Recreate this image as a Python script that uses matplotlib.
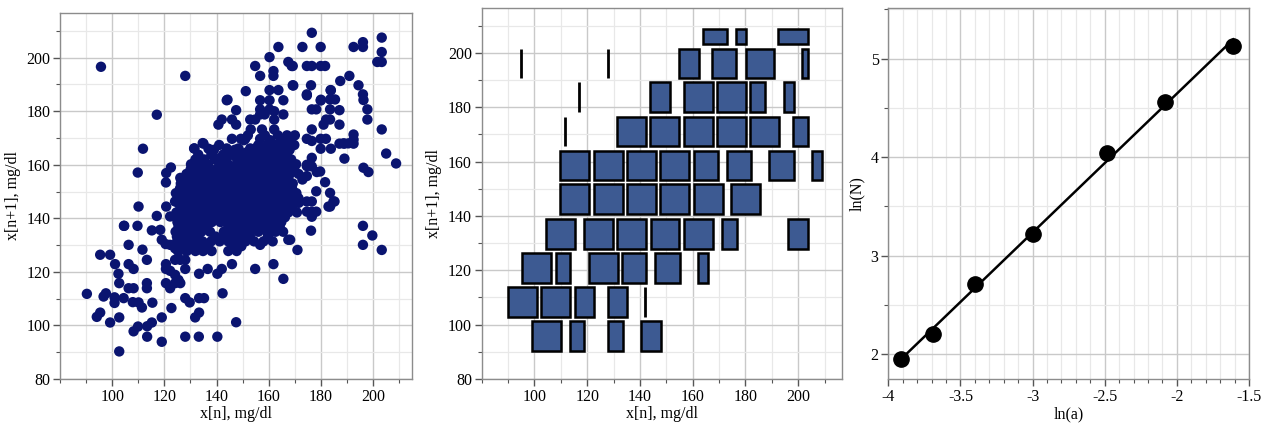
import numpy as np
import matplotlib
matplotlib.use("Agg")
import matplotlib.pyplot as plt
from matplotlib.patches import Rectangle
from matplotlib.ticker import MultipleLocator, FixedLocator, FuncFormatter

plt.rcParams['font.family'] = ['Liberation Serif', 'DejaVu Serif']

# ---------------- Panel 1 data: lag scatter (x[n], x[n+1]) ----------------
# sparse / edge points
sparse_xn = [95.7, 128, 117.1, 111.8, 109.8, 134.7, 131.4, 122.5, 120.7, 120.6, 110.1, 120.7, 117.1,
             90.3, 95.4, 99.2, 101.1, 102.4, 102.7, 104.5, 109.7, 106.3, 106.3, 108.2, 111.6, 113.3,
             113.3, 113.3, 106.3, 108.2, 104.4, 96.7, 97.6, 100.9, 100.9, 107.9, 110.1, 111.4, 115.4,
             94.1, 95.4, 99.2, 102.7, 108.2, 109.9, 113.4, 113.4, 115.2, 119, 119, 102.7, 122.7, 128,
             133.2, 140.3, 147.5, 128, 129.7, 131.8, 133.3, 133.3, 135.2, 142.3, 120.6, 122.2, 120.6,
             120.6, 122.2, 124.1, 125.4, 126.1, 124.1, 119, 120.5, 122.2, 124.1, 115.2, 118.4, 122.2,
             124.4, 125.4, 124.1, 126.1, 128, 128, 133.3, 135, 136.6, 131.8, 129.9, 124.8, 126.7, 128.6,
             126.1, 128, 124.1, 104.6, 140.3, 142, 145.9, 154.8, 161.8, 165.6, 167.5, 156.7,
             196.1, 199.7, 196.1, 203.3, 176.2, 171, 168.2, 183.5, 185.2, 174.6, 176.5, 174.6, 176.5,
             178.2, 176.5, 169.5, 171.4,
             176.5, 172.9, 179.9, 192.5, 196.1, 196.1, 203.3, 203.3, 201.6, 203.3, 174.6, 176.5, 179.9,
             181.6, 169.2, 187.4, 190.9, 194.4, 196.1, 196.3, 197.8, 197.8, 203.3, 205, 208.8, 196.3,
             198.2, 183.7, 183.5, 185.4, 179.9, 176.2, 169.2, 174.6, 187.1, 187.1, 183.5, 183.5, 182,
             181, 176.5, 178.2, 176.5, 174.6, 176.5, 179.9, 181.9, 179.9, 183.8, 187.1, 189, 192.5,
             192.5, 192.5, 189, 176.5, 174.6, 178.4, 181.6, 178.2, 183.5, 172.9, 174.6,
             163.7, 160.3, 154.8, 156.7, 161.8, 161.8, 167.5, 168.8, 151.2, 160.3, 163.7, 143.9, 156.7,
             160.3, 156.7, 160.3, 165.6, 147.5, 142, 140.7, 145.9, 147.5, 152.9, 154.8, 156.7, 158.4,
             162.1, 162.1, 165.6, 162.1, 153.1, 157.4, 156.7, 145.9, 149.3, 151, 131.5, 135, 136.9,
             143.9, 148.4, 140.5, 143.9, 151.2, 152.9, 154.8, 129.9, 128, 126.1, 169.4, 174.6, 183.8,
             180, 144.2, 188.6, 190.5, 179.7, 176.5, 174.6, 184.8, 182.9]
sparse_xn1 = [196.6, 193.2, 178.7, 166, 157.1, 168.1, 166.1, 159, 156.9, 153.4, 144.4, 144.4, 140.9,
              111.8, 126.4, 126.4, 122.9, 119.3, 115.8, 137.2, 137.2, 130.1, 122.9, 121.1, 128.3, 124.5,
              115.8, 113.9, 113.9, 113.9, 110.2, 110.8, 112, 110.5, 108.4, 108.7, 108.6, 106.7, 108.5,
              103.2, 104.8, 101.1, 103, 97.8, 99.6, 95.8, 99.7, 101.1, 93.9, 103, 90.3, 106.5, 95.8,
              95.8, 95.8, 101.2, 110.2, 108.6, 103, 104.8, 110.2, 110.2, 112, 115.8, 113.9, 122.9,
              121.1, 120.4, 118.9, 117, 115.8, 115.8, 132, 130.4, 130.1, 128.8, 135.5, 135.7, 140.7,
              140.7, 136.9, 124.5, 124.5, 124.5, 121.1, 119.3, 128.2, 121.1, 131.3, 132, 133.2, 135.7, 137.6,
              128.2, 128.2, 146.3, 137.2, 119.3, 121.1, 122.9, 121.1, 122.9, 117.4, 132, 130.1,
              137.2, 133.6, 130.1, 128.2, 135.4, 128.2, 132, 144.4, 146.3, 146.3, 146.3, 142.5, 142.5,
              142.5, 140.6, 146.9, 147.5,
              209.3, 204, 204, 204, 204, 205.8, 207.5, 202.1, 198.4, 198.4, 196.9, 196.9, 196.9,
              196.9, 196.9, 191.3, 193.2, 189.7, 186.3, 184.2, 180.7, 176.9, 173.2, 164.2, 160.5, 158.9,
              157.3, 187.9, 184.4, 184.4, 184, 189.7, 189.7, 186.3, 180.4, 175, 180.7, 176.9, 176.9,
              175, 180.7, 180.7, 173.2, 169.7, 168.9, 169.7, 169.7, 166, 166, 167.9, 167.9, 171.3,
              169.4, 167.9, 162.3, 162.6, 159.5, 157.3, 153.5, 150.1, 149.5, 154.5, 155.8,
              204, 200.2, 196.9, 193.2, 195, 193.2, 198.4, 196.9, 187.5, 187.9, 187.9, 184.1, 184.1,
              184.1, 180.7, 180.7, 184.1, 180.4, 176.9, 175, 176.9, 175, 176.9, 176.9, 178.8, 178.8,
              180, 176.9, 178.8, 173.2, 173.2, 173.2, 169.7, 169.7, 169.7, 169.7, 166.1, 167.9, 166,
              166.1, 166.1, 162.3, 162.3, 164.5, 166.1, 166.1, 153.3, 152, 155.1, 189.6, 185.9, 187.8,
              184.3, 184.3, 168, 168, 157.5, 159.4, 160, 146.3, 144.4]

# dense core, read row by row (x[n+1] level, x[n] values)
core_levels = [127.8, 129.6, 131.4, 133.2, 135.0, 136.8, 138.6, 140.4, 142.2, 144.0, 145.8, 147.6,
               149.4, 151.2, 153.0, 154.8, 156.6, 158.4, 160.2, 162.0, 163.8, 165.6, 167.4, 169.2, 171.0]
core_rows = [
    [125.2, 128.6, 131.9, 134.8, 138.1, 144.5, 147.7],
    [126.9, 130.2, 133.5, 136.4, 146.0, 149.5],
    [124.9, 128.1, 131.3, 134.6, 137.9, 141.2, 144.5, 147.8, 151.1, 154.4, 158.0, 161.5],
    [126.5, 129.7, 133.0, 139.6, 142.9, 146.2, 149.5, 152.8, 159.7],
    [124.3, 127.6, 130.9, 134.2, 137.5, 142.8, 146.1, 149.4, 152.7, 156.0, 159.3, 162.6, 165.5],
    [126.0, 129.3, 132.6, 135.8, 144.5, 147.8, 151.1, 154.4, 157.7, 161.0, 164.2],
    [125.0, 128.3, 131.6, 134.9, 138.2, 141.5, 144.8, 148.1, 151.4, 154.7, 158.0, 161.3, 164.8],
    [126.6, 129.9, 133.2, 136.5, 139.8, 143.1, 146.4, 149.7, 153.0, 156.3, 159.6, 162.9, 166.2],
    [124.6, 127.9, 131.2, 134.5, 137.8, 141.1, 144.4, 147.7, 151.0, 154.3, 157.6, 160.9, 164.2, 167.5, 170.8],
    [126.2, 129.5, 132.8, 136.1, 139.4, 142.7, 146.0, 149.3, 152.6, 155.9, 159.2, 162.5, 165.8, 169.1],
    [125.3, 128.6, 131.9, 135.2, 138.5, 141.8, 145.1, 148.4, 151.7, 155.0, 158.3, 161.6, 164.9, 168.2, 171.5],
    [127.0, 130.3, 133.6, 136.9, 140.2, 143.5, 146.8, 150.1, 153.4, 156.7, 160.0, 163.3, 166.6, 169.9],
    [124.4, 127.7, 131.0, 134.3, 137.6, 140.9, 144.2, 147.5, 150.8, 154.1, 157.4, 160.7, 164.0, 167.3, 170.6],
    [126.0, 129.3, 132.6, 135.9, 139.2, 142.5, 145.8, 149.1, 152.4, 155.7, 159.0, 162.3, 165.6, 168.9],
    [126.3, 129.6, 132.9, 136.2, 139.5, 142.8, 146.1, 149.4, 152.7, 156.0, 159.3, 162.6, 165.9, 169.2],
    [127.9, 131.2, 134.5, 137.8, 141.1, 144.4, 147.7, 151.0, 154.3, 157.6, 160.9, 164.2, 167.5],
    [128.5, 131.8, 135.1, 138.4, 141.7, 145.0, 148.3, 151.6, 154.9, 158.2, 161.5, 164.8, 168.1, 171.4],
    [130.1, 133.4, 136.7, 140.0, 143.3, 146.6, 149.9, 153.2, 156.5, 159.8, 163.1, 166.4, 169.7],
    [130.2, 133.5, 136.8, 141.1, 144.4, 147.7, 151.0, 154.3, 157.6, 160.9, 164.2, 167.5, 170.5],
    [131.9, 135.2, 139.4, 142.8, 147.9, 151.3, 155.0, 158.3, 161.9, 165.3, 168.6],
    [133.0, 138.0, 142.5, 146.0, 149.5, 153.0, 156.5, 160.0, 163.5, 167.0],
    [139.0, 147.0, 157.5, 161.0, 164.5, 168.0],
    [141.0, 156.0, 159.5, 163.0, 166.5, 169.8],
    [150.5, 160.5, 165.0, 168.5],
    [152.0, 158.5, 163.5, 167.0, 170.0],
]

# ---------------- Panel 2 data: covering boxes ----------------
box_x0 = [163.8, 176.3, 192.5,
          95.0, 127.8, 154.8, 167.3, 180.3, 201.6,
          117.0, 143.9, 156.6, 169.2, 181.9, 194.7,
          111.6, 131.3, 143.9, 156.7, 169.2, 181.9, 198.1,
          109.7, 122.4, 135.1, 147.7, 160.5, 172.9, 189.1, 205.3,
          109.7, 122.4, 135.1, 147.7, 160.4, 174.7,
          104.3, 118.7, 131.4, 144.0, 156.7, 171.1, 196.3,
          95.3, 108.0, 120.6, 133.3, 145.8, 162.0,
          89.9, 102.5, 115.2, 127.7, 142.0,
          98.9, 113.3, 127.8, 140.4]
box_x1 = [173.0, 180.3, 203.8,
          95.0, 127.8, 162.2, 176.6, 191.0, 203.8,
          117.0, 151.3, 167.6, 180.3, 187.5, 198.4,
          111.6, 142.4, 154.9, 167.6, 180.3, 192.9, 203.8,
          120.8, 133.4, 146.1, 158.6, 169.5, 182.2, 198.4, 209.2,
          120.8, 133.4, 146.1, 158.6, 171.4, 185.7,
          115.3, 129.6, 142.3, 154.9, 167.7, 176.7, 203.8,
          106.3, 113.5, 131.6, 142.4, 155.1, 165.8,
          100.9, 113.5, 122.5, 135.2, 142.0,
          110.0, 118.9, 133.4, 147.8]
row_y0 = [203.3, 190.6, 178.3, 165.7, 153.1, 140.8, 128.0, 115.5, 102.9, 90.4]
row_y1 = [208.9, 201.6, 189.1, 176.5, 164.0, 151.7, 138.9, 126.4, 114.0, 101.2]
row_counts = [3, 6, 6, 7, 8, 6, 7, 6, 5, 4]

# ---------------- Panel 3 data: ln(N) vs ln(a) ----------------
ln_a = [-3.912, -3.689, -3.401, -2.996, -2.485, -2.079, -1.609]
ln_N = [1.950, 2.205, 2.710, 3.222, 4.045, 4.555, 5.130]

# ---------------- figure ----------------
W, H = 1276, 426
fig = plt.figure(figsize=(W / 100, H / 100), dpi=100)

def px_axes(left, top, right, bottom):
    return fig.add_axes([left / W, 1 - bottom / H, (right - left) / W, (bottom - top) / H])

FRAME = '#8c8c8c'
MAJ_GRID = '#c9c9c9'
MIN_GRID = '#e8e8e8'
FS = 11.5

def style(ax):
    for s in ax.spines.values():
        s.set_color(FRAME)
        s.set_linewidth(1.0)
    ax.tick_params(which='major', direction='out', length=5, width=1, color='#555555',
                   labelsize=FS, pad=2)
    ax.tick_params(which='minor', direction='out', length=3, width=0.8, color='#555555')
    ax.tick_params(top=False, right=False, which='both')
    ax.grid(True, which='major', color=MAJ_GRID, linewidth=1.0)
    ax.grid(True, which='minor', color=MIN_GRID, linewidth=0.9)
    ax.set_axisbelow(True)

def mg_axes(ax, xmax, ymax):
    ax.set_xlim(80, xmax)
    ax.set_ylim(80, ymax)
    ax.xaxis.set_major_locator(FixedLocator([100, 120, 140, 160, 180, 200]))
    ax.xaxis.set_minor_locator(FixedLocator([80, 90, 110, 130, 150, 170, 190, 210]))
    ax.yaxis.set_major_locator(FixedLocator([80, 100, 120, 140, 160, 180, 200]))
    ax.yaxis.set_minor_locator(FixedLocator([90, 110, 130, 150, 170, 190, 210]))
    ax.set_xlabel('x[n], mg/dl', fontsize=FS, labelpad=1)
    ax.set_ylabel('x[n+1], mg/dl', fontsize=FS, labelpad=4)

# Panel 1
ax1 = px_axes(60, 12.7, 412, 379)
style(ax1)
mg_axes(ax1, 214.9, 216.8)
core_xn = [x for row in core_rows for x in row]
core_xn1 = [lvl for lvl, row in zip(core_levels, core_rows) for _ in row]
ax1.scatter(sparse_xn + core_xn, sparse_xn1 + core_xn1, s=56, color='#0a1470',
            edgecolors='none', zorder=3)

# Panel 2
ax2 = px_axes(481.7, 8.3, 842, 379)
style(ax2)
mg_axes(ax2, 216.6, 216.4)
i = 0
for r, cnt in enumerate(row_counts):
    for _ in range(cnt):
        x0, x1 = box_x0[i], box_x1[i]
        y0, y1 = row_y0[r], row_y1[r]
        if x1 - x0 < 0.5:
            ax2.plot([x0, x0], [y0, y1], color='black', lw=2.0, zorder=3,
                     solid_capstyle='butt')
        else:
            ax2.add_patch(Rectangle((x0, y0), x1 - x0, y1 - y0, facecolor='#3d5a92',
                                    edgecolor='black', lw=1.8, zorder=3))
        i += 1

# Panel 3
ax3 = px_axes(888.3, 8.3, 1249, 379)
style(ax3)
ax3.set_xlim(-4, -1.5)
ax3.set_ylim(1.75, 5.51)
ax3.xaxis.set_major_locator(MultipleLocator(0.5))
ax3.xaxis.set_minor_locator(MultipleLocator(0.1))
ax3.yaxis.set_major_locator(MultipleLocator(1))
ax3.yaxis.set_minor_locator(MultipleLocator(0.5))
fmt = FuncFormatter(lambda v, p: ('%g' % v).replace('\u2212', '-'))
ax3.xaxis.set_major_formatter(fmt)
ax3.yaxis.set_major_formatter(fmt)
coef = np.polyfit(ln_a, ln_N, 1)
xl = np.array([min(ln_a), max(ln_a)])
ax3.plot(xl, np.polyval(coef, xl), color='black', lw=1.8, zorder=3)
ax3.plot(ln_a, ln_N, 'o', color='black', ms=11, zorder=4)
ax3.set_xlabel('ln(a)', fontsize=FS, labelpad=1)
ax3.set_ylabel('ln(N)', fontsize=FS, labelpad=4)

fig.savefig('out.png', dpi=100)
